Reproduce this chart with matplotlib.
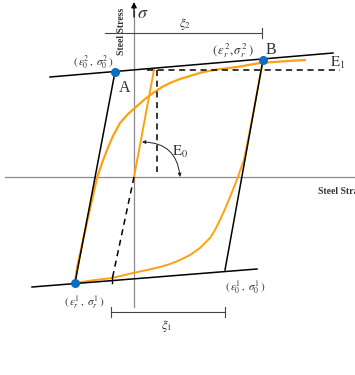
import numpy as np
import matplotlib.pyplot as plt

plt.rcParams['mathtext.fontset'] = 'stix'
plt.rcParams['font.family'] = ['Liberation Serif', 'DejaVu Serif']

# Key points of the hysteresis loop (strain, stress), origin at axis crossing
A = (-19, 105)    # (eps0^2, sig0^2)
B = (129, 117)    # (epsr^2, sigr^2)
C = (-59, -106)   # (epsr^1, sigr^1)
D = (91, -93)     # (eps0^1, sig0^1)

# Bilinear envelope asymptotes
upper_x = [-84, 199]
upper_y = [100, 124]
lower_x = [-102, 123]
lower_y = [-110, -92]

# Elastic branch from origin and its mirror on the compression side
elastic_x = [0, 20]
elastic_y = [0, 107]
mirror_x = [0, -22]
mirror_y = [0, -103]

# Yield reference (dashed)
yield_x = [13, 206]
yield_y = [107, 107]
vert_x = [23, 23]
vert_y = [107, 5]

# Menegotto-Pinto style branches
up_branch_x = [-59, -57, -52, -47, -42, -37, -32, -27, -21, -14, -6, 3, 11, 19,
               28, 36, 46, 56, 69, 86, 103, 126, 154, 171]
up_branch_y = [-106, -91, -68, -45, -23, -1, 14, 27, 41, 54, 63, 71, 78, 84,
               90, 94, 98, 101, 105, 108, 110, 114, 116, 117]
down_branch_x = [-59, -39, -22, -1, 13, 26, 36, 46, 56, 66, 76, 81, 86, 91, 96,
                 100, 104, 107, 110, 116, 129]
down_branch_y = [-106, -103, -101, -96, -93, -90, -87, -83, -78, -71, -61, -53,
                 -43, -32, -20, -10, 0, 9, 17, 47, 117]

# Dimension lines
xi1_x = [-23, 91]
xi1_y = -135
xi2_x = [-29, 128]
xi2_y = 144

orange = '#FFA010'
blue = '#0A6FC2'
grey = '#8a8a8a'
txt = '#333333'

fig = plt.figure(figsize=(3.55, 3.75), dpi=100)
ax = fig.add_axes([0, 0, 1, 1])
ax.set_xlim(-134, 221)
ax.set_ylim(-198, 177)
ax.axis('off')

# Axes
ax.plot([-129, 221], [0, 0], color=grey, lw=0.9, zorder=1)
ax.plot([0, 0], [-130, 166], color=grey, lw=0.9, zorder=1)
ax.annotate('', xy=(0, 175), xytext=(0, 160),
            arrowprops=dict(arrowstyle='-|>', color='black', lw=0.9,
                            mutation_scale=8, shrinkA=0, shrinkB=0))
ax.text(9, 164, r'$\sigma$', fontsize=13, color=txt, ha='center', va='center')
ax.text(-12, 146, 'Steel Stress', rotation=90, fontsize=7, weight='bold',
        ha='center', va='center', color=txt)
ax.text(184, -14, 'Steel Strain', fontsize=7, weight='bold', ha='left',
        va='center', color=txt)

# Orange curves
ax.plot(up_branch_x, up_branch_y, color=orange, lw=1.6, zorder=2)
ax.plot(down_branch_x, down_branch_y, color=orange, lw=1.4, zorder=2)
ax.plot(elastic_x, elastic_y, color=orange, lw=1.4, zorder=2)

# Envelope and unloading lines
ax.plot(upper_x, upper_y, color='black', lw=1.1, zorder=3)
ax.plot(lower_x, lower_y, color='black', lw=1.1, zorder=3)
ax.plot([A[0], C[0]], [A[1], C[1]], color='black', lw=1.1, zorder=3)
ax.plot([B[0], D[0]], [B[1], D[1]], color='black', lw=1.1, zorder=3)

# Dashed guides
ax.plot(yield_x, yield_y, color='black', lw=1.1, ls=(0, (4, 3)), zorder=3)
ax.plot(vert_x, vert_y, color='black', lw=1.1, ls=(0, (4, 3)), zorder=3)
ax.plot(mirror_x, mirror_y, color='black', lw=1.1, ls=(0, (4, 3)), zorder=3)
ax.plot([mirror_x[1], mirror_x[1]], [mirror_y[1] - 3, mirror_y[1] + 3],
        color='black', lw=1.0, zorder=3)

# Reversal points
for p in (A, B, C):
    ax.plot(*p, 'o', color=blue, ms=5.5, zorder=5)

# E0 angle
ax.annotate('', xy=(8, 35), xytext=(46, 0),
            arrowprops=dict(arrowstyle='<|-|>', color='#222222', lw=0.7,
                            mutation_scale=5, shrinkA=0, shrinkB=0,
                            connectionstyle='arc3,rad=0.45'))
ax.text(38, 25, r'$\mathrm{E}_0$', fontsize=10.5, color=txt, ha='left', va='center')
ax.text(196, 114, r'$\mathrm{E}_1$', fontsize=10.5, color=txt, ha='left', va='center')

# Point labels
ax.text(-41, 114, r'$(\,\varepsilon_0^2\,,\;\sigma_0^2\,)$', fontsize=8, color=txt,
        ha='center', va='center')
ax.text(-9, 89, 'A', fontsize=11.5, color=txt, ha='center', va='center')
ax.text(99, 126, r'$(\,\varepsilon_r^2,\sigma_r^2\;)$', fontsize=9, color=txt,
        ha='center', va='center')
ax.text(137, 127, 'B', fontsize=11.5, color=txt, ha='center', va='center')
ax.text(-50, -126, r'$(\,\varepsilon_r^1\,,\;\sigma_r^1\,)$', fontsize=8, color=txt,
        ha='center', va='center')
ax.text(111, -111, r'$(\,\varepsilon_0^1\,,\;\sigma_0^1\,)$', fontsize=8, color=txt,
        ha='center', va='center')

# Dimension lines xi1, xi2
ax.plot(xi1_x, [xi1_y, xi1_y], color='#444444', lw=0.8)
for x in xi1_x:
    ax.plot([x, x], [xi1_y - 5, xi1_y + 5], color='#444444', lw=0.8)
ax.text(33, -149, r'$\xi_1$', fontsize=9, color=txt, ha='center', va='center')
ax.plot(xi2_x, [xi2_y, xi2_y], color='#444444', lw=0.8, zorder=4)
ax.plot([xi2_x[1], xi2_x[1]], [xi2_y - 5, xi2_y + 5], color='#444444', lw=0.8)
ax.text(51, 153, r'$\xi_2$', fontsize=9, color=txt, ha='center', va='center')

fig.savefig('out.png', dpi=100)
